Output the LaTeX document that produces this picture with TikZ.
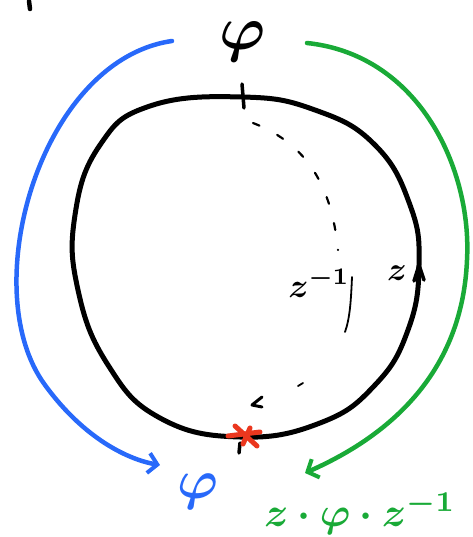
\documentclass[tikz,border=0pt]{standalone}
\usepackage{amsmath,amssymb,bm}
\usetikzlibrary{arrows.meta}
\definecolor{myblue}{RGB}{40,105,250}
\definecolor{mygreen}{RGB}{25,170,55}
\definecolor{myred}{RGB}{235,55,30}
\tikzset{
  loopline/.style={line width=5pt, line cap=round, line join=round},
  mapline/.style={line width=4.5pt, line cap=round, -{Straight Barb[length=9pt,width=20pt,line width=4pt]}},
  thin stroke/.style={line width=2pt, line cap=round},
  lbl/.style={inner sep=0pt}
}
\begin{document}
\begin{tikzpicture}[x=1pt,y=-1pt]
\useasboundingbox (0,0) rectangle (472,537);
% loop
\draw[loopline] plot[smooth cycle, tension=0.75] coordinates {
 (242,97) (315,110) (375,145) (410,205) (419,265) (408,330) (375,385) (320,423) (240,437)
 (160,418) (108,365) (78,290) (75,215) (100,145) (150,106)};
% base point ticks
\coordinate (topbase) at (242,97);
\coordinate (botbase) at (240,437);
\draw[thin stroke, line width=3.5pt] (242,84) -- (244,108);
\draw[thin stroke, line width=3.5pt] (240,443) -- (239,453);
% red star
\draw[myred, line width=5pt, line cap=round] (228,436) -- (260,432);
\draw[myred, line width=5pt, line cap=round] (235,426) -- (257,446);
\draw[myred, line width=5pt, line cap=round] (243,444) -- (250,428);
% z arrow on the loop
\draw[line width=3.5pt, line cap=round, line join=round] (414,281) -- (419,265) -- (424,280);
% dashed arc z^{-1}
\draw[line width=2.2pt, line cap=round, dash pattern=on 7pt off 20pt]
  (253,123) .. controls (310,145) and (332,190) .. (338,250);
\draw[line width=1.8pt, line cap=round] (352,277) .. controls (351,300) and (350,318) .. (345,332);
\draw[line width=1.8pt, line cap=round] (298,386) -- (303,383);
\draw[line width=3pt, line cap=round, line join=round] (262,397) -- (252,405) -- (262,407);
% labels
\node[lbl] (phitop) at (243,42) {\scalebox{6.2}{$\bm{\varphi}$}};
\node[lbl] (zlab) at (397,273) {\scalebox{3.3}{$\bm{z}$}};
\node[lbl] (zinv) at (319,283) {\scalebox{3.4}{$\bm{z^{-1}}$}};
\node[lbl, text=myblue] (phiblue) at (198,492) {\scalebox{5.5}{$\bm{\varphi}$}};
\node[lbl, text=mygreen] (conj) at (360,513) {\scalebox{4.1}{$\bm{z\cdot\varphi\cdot z^{-1}}$}};
% maps
\draw[mapline, myblue] (172,41) .. controls (40,60) and (-25,290) .. (45,385)
   .. controls (85,440) and (130,460) .. (160,465);
\draw[mapline, mygreen] (307,43) .. controls (420,55) and (472,170) .. (467,260)
   .. controls (462,380) and (380,440) .. (305,473);
% stray mark
\draw[line width=4.5pt, line cap=round] (29,1) -- (30,9);
\end{tikzpicture}
\end{document}
